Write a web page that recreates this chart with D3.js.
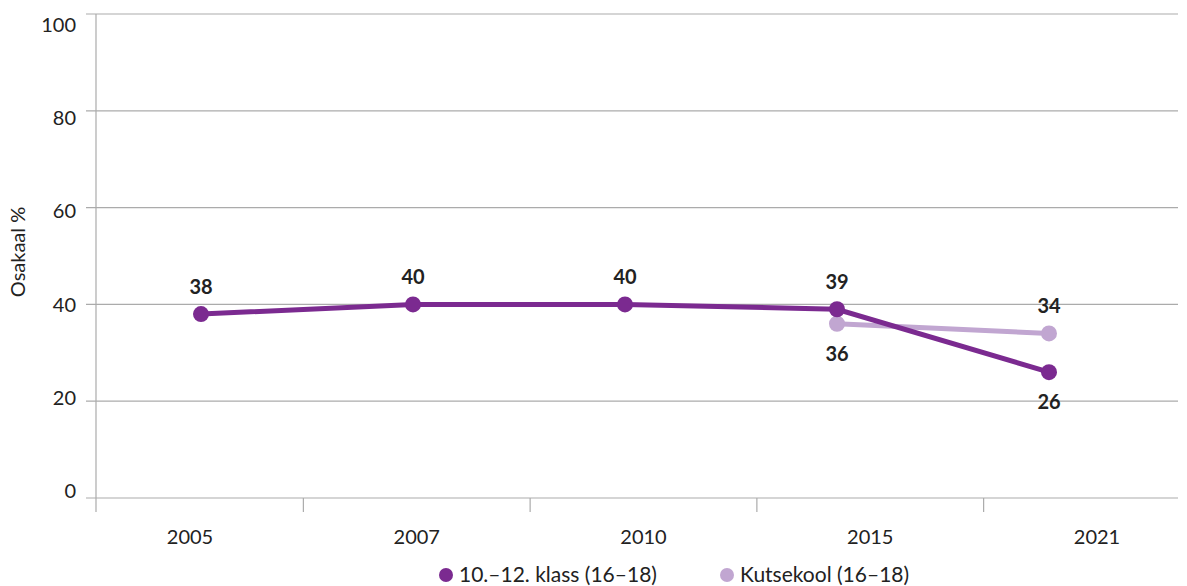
<!DOCTYPE html>
<html>
<head>
<meta charset="utf-8">
<script src="https://cdn.jsdelivr.net/npm/d3@7"></script>
<style>
  body { margin: 0; background: #fff; }
  text { font-family: Lato, 'Open Sans', sans-serif; fill: #222; }
</style>
</head>
<body>
<svg id="chart" width="1187" height="586"></svg>
<script>
'use strict';
const YEARS = ['2005', '2007', '2010', '2015', '2021'];
const GYMN = [38, 40, 40, 39, 26];
const KUTSE = [null, null, null, 36, 34];
const Y_TICKS = [0, 20, 40, 60, 80, 100];
const SERIES_NAMES = ['10.–12. klass (16–18)', 'Kutsekool (16–18)'];
const COLORS = ['#7b2a90', '#c1a6d1'];

const svg = d3.select('#chart');
const margin = { top: 14, right: 9, bottom: 88, left: 96 };
const width = 1187, height = 586;

const y = d3.scaleLinear().domain([0, 100])
  .range([height - margin.bottom, margin.top]);
// tick labels in the original sit on a slightly tighter spacing than the grid
const yLabel = d3.scaleLinear().domain([0, 100])
  .range([height - margin.bottom - 7, margin.top + 11]);

// category label positions
const xLab = d3.scalePoint().domain(YEARS)
  .range([margin.left + 94, width - margin.right - 81]);

// markers
const x = d3.scalePoint().domain(YEARS)
  .range([margin.left + 105, width - margin.right - 129]);

// gridlines
svg.append('g').selectAll('line')
  .data(Y_TICKS)
  .join('line')
  .attr('x1', margin.left - 10).attr('x2', width - margin.right)
  .attr('y1', (d) => y(d)).attr('y2', (d) => y(d))
  .attr('stroke', '#ababab').attr('stroke-width', 1.2);

// y tick labels
svg.append('g').selectAll('text')
  .data(Y_TICKS)
  .join('text')
  .attr('x', margin.left - 20)
  .attr('y', (d) => yLabel(d))
  .attr('dy', '0.35em')
  .attr('text-anchor', 'end')
  .attr('font-size', 20)
  .text((d) => d);

// vertical axis line
svg.append('line')
  .attr('x1', margin.left).attr('x2', margin.left)
  .attr('y1', y(100)).attr('y2', y(0) + 14)
  .attr('stroke', '#ababab').attr('stroke-width', 1.2);

// bottom tick marks halfway between categories
const bounds = d3.pairs(YEARS).map(([a, b]) => (xLab(a) + xLab(b)) / 2);
svg.append('g').selectAll('line')
  .data(bounds)
  .join('line')
  .attr('x1', (d) => d).attr('x2', (d) => d)
  .attr('y1', y(0)).attr('y2', y(0) + 14)
  .attr('stroke', '#ababab').attr('stroke-width', 1.2);

// category labels
svg.append('g').selectAll('text')
  .data(YEARS)
  .join('text')
  .attr('x', (d) => xLab(d))
  .attr('y', y(0) + 46)
  .attr('text-anchor', 'middle')
  .attr('font-size', 20)
  .text((d) => d);

// y title
svg.append('text')
  .attr('transform', `translate(25,${(y(0) + y(100)) / 2 - 4}) rotate(-90)`)
  .attr('text-anchor', 'middle')
  .attr('font-size', 20)
  .text('Osakaal %');

// series
const series = [
  { name: SERIES_NAMES[1], values: KUTSE, color: COLORS[1], labelPos: ['', '', '', 'below', 'above'] },
  { name: SERIES_NAMES[0], values: GYMN, color: COLORS[0], labelPos: ['above', 'above', 'above', 'above', 'below'] },
];

const line = d3.line()
  .defined((d) => d.v != null)
  .x((d) => x(d.year))
  .y((d) => y(d.v));

series.forEach((s) => {
  const pts = YEARS.map((year, i) => ({ year, v: s.values[i], pos: s.labelPos[i] }));
  const g = svg.append('g');
  g.append('path')
    .datum(pts)
    .attr('fill', 'none')
    .attr('stroke', s.color)
    .attr('stroke-width', 5)
    .attr('d', line);
  const valid = pts.filter((d) => d.v != null);
  g.selectAll('circle')
    .data(valid)
    .join('circle')
    .attr('cx', (d) => x(d.year))
    .attr('cy', (d) => y(d.v))
    .attr('r', 8)
    .attr('fill', s.color);
  s.valid = valid;
});

// value labels on top
series.forEach((s) => {
  svg.append('g').selectAll('text')
    .data(s.valid)
    .join('text')
    .attr('x', (d) => x(d.year))
    .attr('y', (d) => (d.pos === 'below' ? y(d.v) + 37 : y(d.v) - 20))
    .attr('text-anchor', 'middle')
    .attr('font-size', 20)
    .attr('font-weight', 'bold')
    .attr('fill', '#1f1f1f')
    .text((d) => d.v);
});

// legend
const legend = svg.append('g').attr('transform', `translate(0,${height - 10})`);
const legendX = [446, 727];
SERIES_NAMES.forEach((name, i) => {
  legend.append('circle')
    .attr('cx', legendX[i]).attr('cy', -1).attr('r', 7)
    .attr('fill', COLORS[i]);
  legend.append('text')
    .attr('x', legendX[i] + 13).attr('y', 6)
    .attr('font-size', 21)
    .text(name);
});
</script>
</body>
</html>
